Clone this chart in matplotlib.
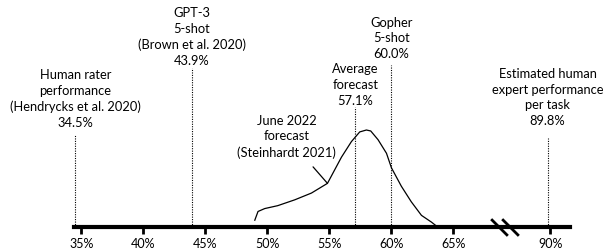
import numpy as np
import matplotlib.pyplot as plt
from matplotlib.scale import FuncScale
from matplotlib.ticker import FixedLocator, FixedFormatter

plt.rcParams['font.family'] = ['Lato', 'DejaVu Sans']

# forecast distribution (relative density)
forecast_x = [48.98, 49.24, 49.78, 50.83, 52.2, 53.55, 54.84, 55.97, 56.77, 57.44,
              57.98, 58.33, 58.92, 59.6, 60.0, 60.8, 61.6, 62.42, 63.23, 63.63]
forecast_y = [0.07, 0.16, 0.19, 0.22, 0.28, 0.35, 0.45, 0.72, 0.88, 0.98,
              1.0, 0.99, 0.90, 0.76, 0.61, 0.42, 0.26, 0.12, 0.05, 0.01]
kink_x, kink_y = 54.84, 0.45

# reference points
ref_values = [34.5, 43.9, 57.1, 60.0, 89.8]
ref_labels = ['Human rater\nperformance\n(Hendrycks et al. 2020)\n34.5%',
              'GPT-3\n5-shot\n(Brown et al. 2020)\n43.9%',
              'Average\nforecast\n57.1%',
              'Gopher\n5-shot\n60.0%',
              'Estimated human\nexpert performance\nper task\n89.8%']
line_tops = [0.95, 1.64, 1.24, 1.67, 0.92]
label_bottoms = [1.01, 1.65, 1.24, 1.72, 1.03]

tick_values = [35, 40, 45, 50, 55, 60, 65, 90]
tick_labels = ['35%', '40%', '45%', '50%', '55%', '60%', '65%', '90%']

# broken axis: 70% jumps to 87.2%
brk_lo, brk_hi = 70.0, 87.2
gap = brk_hi - brk_lo
break_marks = [68.7, 69.6]


def fwd(v):
    v = np.asarray(v, dtype=float)
    return np.where(v <= brk_lo, v, v - gap)


def inv(u):
    u = np.asarray(u, dtype=float)
    return np.where(u <= brk_lo, u, u + gap)


fig = plt.figure(figsize=(6.09, 2.52), dpi=100)
ax = fig.add_axes([74 / 609, 25 / 252, 496 / 609, 227 / 252])
ax.set_xscale(FuncScale(ax, (fwd, inv)))
ax.set_xlim(34.4, 91.6)
ax.set_ylim(0, 227 / 97)

ax.plot(forecast_x, forecast_y, color='black', lw=0.9)

fs = 9.3
for v, lab, top, tb in zip(ref_values, ref_labels, line_tops, label_bottoms):
    ax.plot([v, v], [0, top], color='black', lw=0.8, ls=(0, (1, 1.2)))
    ax.text(v, tb, lab, ha='center', va='bottom', fontsize=fs,
            linespacing=1.37)

ax.annotate('June 2022\nforecast\n(Steinhardt 2021)', xy=(kink_x, kink_y),
            xytext=(51.56, 0.93), ha='center', va='center', fontsize=fs,
            linespacing=1.37,
            arrowprops=dict(arrowstyle='-', color='black', lw=0.9,
                            shrinkA=5, shrinkB=0))

# axis styling
for s in ['top', 'right', 'left']:
    ax.spines[s].set_visible(False)
ax.spines['bottom'].set_linewidth(3)
ax.set_yticks([])
ax.xaxis.set_major_locator(FixedLocator(tick_values))
ax.xaxis.set_major_formatter(FixedFormatter(tick_labels))
ax.tick_params(axis='x', length=5, width=2, labelsize=9, pad=3)

# break marks on the axis
ax.plot(break_marks, [0, 0], ls='none', marker=[(-1, 1), (1, -1)],
        markersize=12, mew=2, color='black', clip_on=False)

fig.savefig('out.png', dpi=100)
